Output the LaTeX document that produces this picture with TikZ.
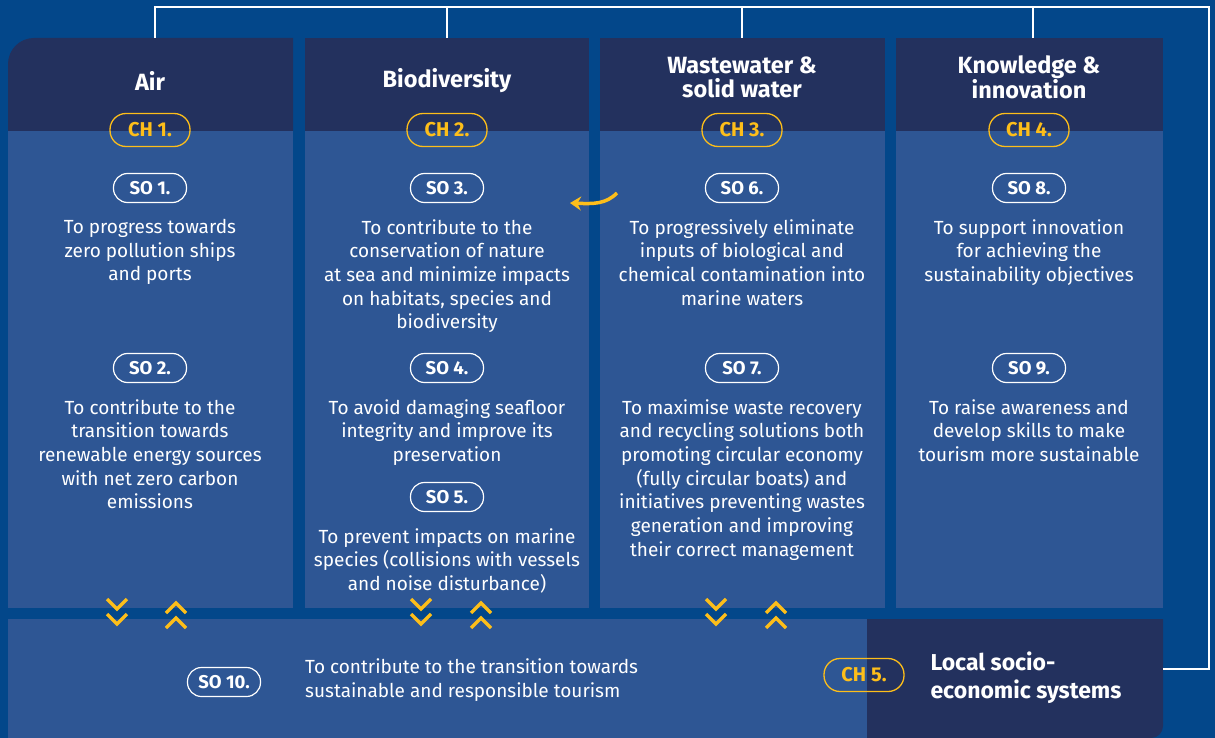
\documentclass[tikz,border=0pt]{standalone}
\usepackage{fontspec}
\setmainfont{Fira Sans}
\usetikzlibrary{arrows.meta,positioning}
\definecolor{bgblue}{HTML}{03478A}
\definecolor{hdrblue}{HTML}{23315E}
\definecolor{panelblue}{HTML}{2E5694}
\definecolor{chyellow}{HTML}{FDBE1A}
\tikzset{
  title/.style={text=white,font=\fontsize{23.5}{24}\selectfont\bfseries,align=center},
  body/.style={text=white,font=\fontsize{19}{23.7}\selectfont,align=center,inner sep=0},
  chpill/.style={draw=chyellow,line width=1.3,rounded corners=16,minimum width=80,minimum height=33,inner sep=0,text=chyellow,font=\fontsize{20}{22}\selectfont\bfseries},
  sopill/.style={draw=white,line width=1.2,rounded corners=14,minimum width=73,minimum height=29,inner sep=0,text=white,font=\fontsize{18.5}{20}\selectfont\bfseries},
  chevron/.style={draw=chyellow,line width=3.5},
  link/.style={draw=white,line width=2.5},
}
\begin{document}
\begin{tikzpicture}[x=1pt,y=-1pt]
\fill[bgblue] (0,0) rectangle (1215,738);
\useasboundingbox (0,0) rectangle (1215,738);
% columns
\fill[hdrblue] (8,131) -- (8,64) arc (180:270:26) -- (293,38) -- (293,131) -- cycle;
\fill[panelblue] (8,131) rectangle (293,608);
\foreach \xa/\xb in {305/589,600/885,896/1163} {
  \fill[hdrblue] (\xa,38) rectangle (\xb,131);
  \fill[panelblue] (\xa,131) rectangle (\xb,608);
}
% bottom band
\fill[panelblue] (8,619) rectangle (867,738);
\fill[hdrblue] (867,619) -- (1163,619) -- (1163,726) arc (0:90:12) -- (867,738) -- cycle;
% links
\coordinate (topA) at (155,38);
\coordinate (topB) at (447,38);
\coordinate (topC) at (742,38);
\coordinate (topD) at (1033,38);
\coordinate (railNE) at (1209,7);
\coordinate (chfive) at (1163,669);
\draw[link] (topA) |- (railNE) |- (chfive);
\foreach \t in {topB,topC,topD} \draw[link] (\t) -- (\t |- railNE);
% titles
\node[title] (tAir) at (150,81) {Air};
\node[title] (tBio) at (447,81) {Biodiversity};
\node[title] (tWaste) at (742,77) {Wastewater \&\\solid water};
\node[title] (tKnow) at (1029,77) {Knowledge \&\\innovation};
\node[chpill] (ch1) at (150,130) {CH 1.};
\node[chpill] (ch2) at (447,130) {CH 2.};
\node[chpill] (ch3) at (742,130) {CH 3.};
\node[chpill] (ch4) at (1029,130) {CH 4.};
% objectives
\node[sopill] (so1) at (150,188) {SO 1.};
\node[sopill] (so2) at (150,368) {SO 2.};
\node[sopill] (so3) at (447,188) {SO 3.};
\node[sopill] (so4) at (447,368) {SO 4.};
\node[sopill] (so5) at (447,497) {SO 5.};
\node[sopill] (so6) at (742,188) {SO 6.};
\node[sopill] (so7) at (742,368) {SO 7.};
\node[sopill] (so8) at (1029,188) {SO 8.};
\node[sopill] (so9) at (1029,368) {SO 9.};
\node[body,below=16pt of so1] (txt1) {To progress towards\\zero pollution ships\\and ports};
\node[body,below=16pt of so2] (txt2) {To contribute to the\\transition towards\\renewable energy sources\\with net zero carbon\\emissions};
\node[body,below=16pt of so3] (txt3) {To contribute to the\\conservation of nature\\at sea and minimize impacts\\on habitats, species and\\biodiversity};
\node[body,below=16pt of so4] (txt4) {To avoid damaging seafloor\\integrity and improve its\\preservation};
\node[body,below=16pt of so5] (txt5) {To prevent impacts on marine\\species (collisions with vessels\\and noise disturbance)};
\node[body,below=16pt of so6] (txt6) {To progressively eliminate\\inputs of biological and\\chemical contamination into\\marine waters};
\node[body,below=16pt of so7] (txt7) {To maximise waste recovery\\and recycling solutions both\\promoting circular economy\\(fully circular boats) and\\initiatives preventing wastes\\generation and improving\\their correct management};
\node[body,below=16pt of so8] (txt8) {To support innovation\\for achieving the\\sustainability objectives};
\node[body,below=16pt of so9] (txt9) {To raise awareness and\\develop skills to make\\tourism more sustainable};
% bottom row
\node[sopill] (so10) at (224,682) {SO 10.};
\node[body,align=left,anchor=west] (txt10) at (305,680) {To contribute to the transition towards\\sustainable and responsible tourism};
\node[chpill] (ch5) at (864,675) {CH 5.};
\node[title,align=left,anchor=west,font=\fontsize{23}{28}\selectfont\bfseries] (tLocal) at (927,678) {Local socio-\\economic systems};
% chevrons
\foreach \x in {117,421,716} {
  \draw[chevron] (\x-10,599) -- (\x,609) -- (\x+10,599);
  \draw[chevron] (\x-10,614) -- (\x,624) -- (\x+10,614);
}
\foreach \x in {176,481,776} {
  \draw[chevron] (\x-10,613) -- (\x,603) -- (\x+10,613);
  \draw[chevron] (\x-10,628) -- (\x,618) -- (\x+10,628);
}
\coordinate (swoopA) at (617,193);
\coordinate (swoopB) at (570,203);
\draw[chyellow,line width=3.5,-{Stealth[length=11,width=14]}] (swoopA) .. controls (606,204) and (594,204) .. (swoopB);
\end{tikzpicture}
\end{document}
